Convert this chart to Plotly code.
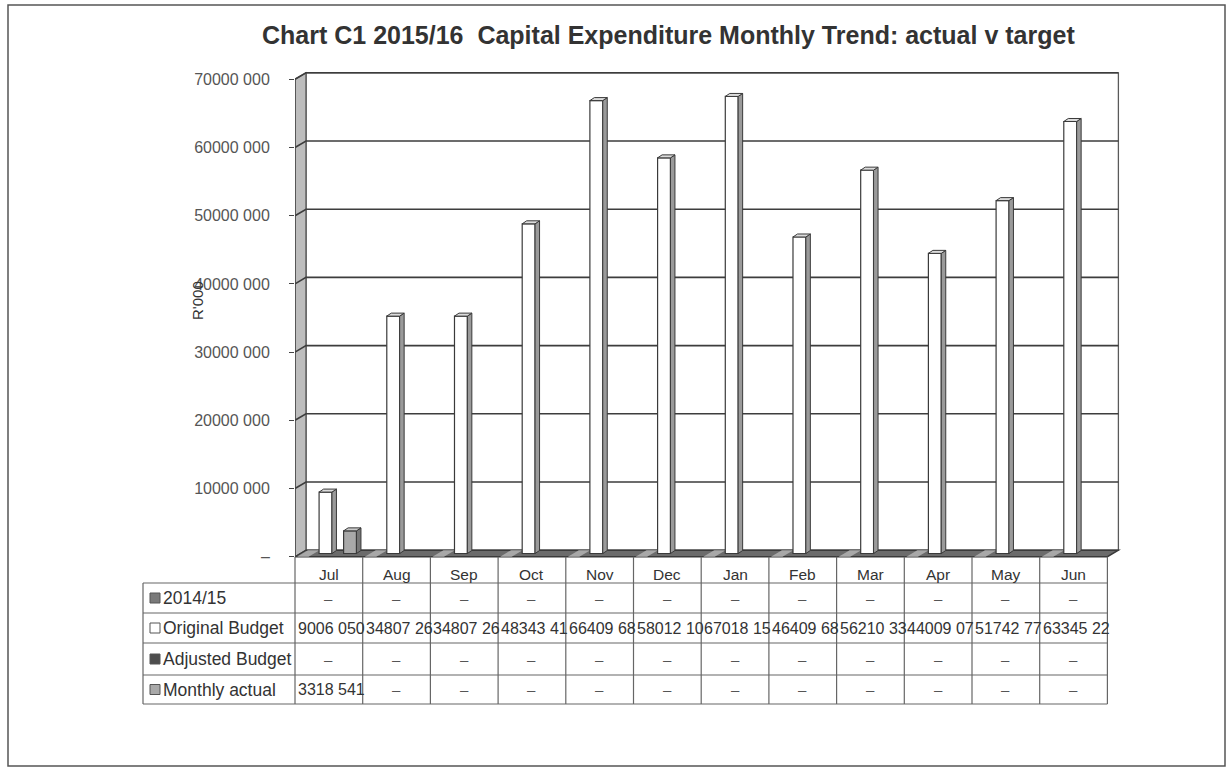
import plotly.graph_objects as go

# ---- data -------------------------------------------------------------
months = ["Jul", "Aug", "Sep", "Oct", "Nov", "Dec",
          "Jan", "Feb", "Mar", "Apr", "May", "Jun"]
series_names = ["2014/15", "Original Budget", "Adjusted Budget", "Monthly actual"]
prior_year = [0, 0, 0, 0, 0, 0, 0, 0, 0, 0, 0, 0]
original_budget = [9006050, 34807265, 34807265, 48343415, 66409685, 58012105,
                   67018155, 46409685, 56210335, 44009075, 51742775, 63345225]
adjusted_budget = [0, 0, 0, 0, 0, 0, 0, 0, 0, 0, 0, 0]
monthly_actual = [3318541, 0, 0, 0, 0, 0, 0, 0, 0, 0, 0, 0]
y_ticks = [0, 10000000, 20000000, 30000000, 40000000, 50000000, 60000000, 70000000]

series_values = [prior_year, original_budget, adjusted_budget, monthly_actual]
face_colors = ["#7a7a7a", "#ffffff", "#4d4d4d", "#a9a9a9"]
side_colors = ["#555555", "#9a9a9a", "#333333", "#777777"]
top_colors = ["#b5b5b5", "#dcdcdc", "#888888", "#cacaca"]

# ---- page geometry (pixels) --------------------------------------------
W, H = 1228, 770
CAT_PX = 67.7            # width of one month column
X_LEFT_PX = 295.0        # left edge of the first month column
Y_ZERO_PX = 556.7        # front floor edge
PX_PER_UNIT = 6.82e-6    # pixels per rand on the value axis

X_RANGE = [-0.5, 11.82]
Y_RANGE = [-400000, 72000000]


def px_x(x):
    return X_LEFT_PX + (x + 0.5) * CAT_PX


def px_y(v):
    return Y_ZERO_PX - v * PX_PER_UNIT


def fx(p):
    return p / W


def fy(p):
    return 1 - p / H


# 3-D depth of the walls and of each column
WALL_DX = 11 / CAT_PX
WALL_DY = 6.5 / PX_PER_UNIT
BAR_STEP = 0.181
BAR_W = 0.19
BAR_SHIFT = 2.8 / CAT_PX
BAR_LIFT = 3.2 / PX_PER_UNIT
BAR_DX = 4.5 / CAT_PX
BAR_DY = 3.0 / PX_PER_UNIT

FONT = "Liberation Sans, Arial, sans-serif"
TEXT = "#333333"


def fmt_value(v):
    if v == 0:
        return "–"
    return f"{v // 1000} {v % 1000:03d}"


def poly(points):
    return "M " + " L ".join(f"{x:.5f},{y:.1f}" for x, y in points) + " Z"


def label(x, y, text, size, color=TEXT, xref="paper", xanchor="center", **kw):
    return dict(x=x, y=y, xref=xref, yref="paper", text=text, showarrow=False,
                xanchor=xanchor, yanchor="middle",
                font=dict(family=FONT, size=size, color=color), **kw)


fig = go.Figure()
shapes = []
annotations = []

x_first, x_last = -0.5, 11.5

# back wall
shapes.append(dict(type="path", xref="x", yref="y", layer="below",
                   path=poly([(x_first + WALL_DX, WALL_DY), (x_last + WALL_DX, WALL_DY),
                              (x_last + WALL_DX, y_ticks[-1] + WALL_DY),
                              (x_first + WALL_DX, y_ticks[-1] + WALL_DY)]),
                   fillcolor="white", line=dict(color="#5a5a5a", width=1.3)))
# side wall
shapes.append(dict(type="path", xref="x", yref="y", layer="below",
                   path=poly([(x_first, 0), (x_first + WALL_DX, WALL_DY),
                              (x_first + WALL_DX, y_ticks[-1] + WALL_DY),
                              (x_first, y_ticks[-1])]),
                   fillcolor="#bdbdbd", line=dict(color="#555555", width=1.3)))
# gridlines running across side wall and back wall
for v in y_ticks[1:]:
    shapes.append(dict(type="path", xref="x", yref="y", layer="below",
                       path=f"M {x_first},{v} L {x_first + WALL_DX:.5f},{v + WALL_DY:.1f} "
                            f"L {x_last + WALL_DX:.5f},{v + WALL_DY:.1f}",
                       line=dict(color="#3d3d3d", width=1.6)))
# floor
shapes.append(dict(type="path", xref="x", yref="y", layer="below",
                   path=poly([(x_first, 0), (x_last, 0), (x_last + WALL_DX, WALL_DY),
                              (x_first + WALL_DX, WALL_DY)]),
                   fillcolor="#6b6b6b", line=dict(color="#3a3a3a", width=1.4)))
# lighter bands on the floor at each month boundary
for i in range(len(months)):
    b = i - 0.5 + 0.03
    shapes.append(dict(type="path", xref="x", yref="y", layer="below",
                       path=poly([(b, 0), (b + 0.17, 0), (b + 0.17 + WALL_DX, WALL_DY),
                                  (b + WALL_DX, WALL_DY)]),
                       fillcolor="#a8a8a8", line=dict(width=0)))
# front edge of the value axis
shapes.append(dict(type="line", xref="x", yref="y", layer="above",
                   x0=x_first, x1=x_first, y0=0, y1=y_ticks[-1],
                   line=dict(color="#444444", width=1.3)))

# ---- columns -------------------------------------------------------------
for k, (name, vals) in enumerate(zip(series_names, series_values)):
    idx = [i for i, v in enumerate(vals) if v > 0]
    if not idx:
        continue
    center = (k - 1.5) * BAR_STEP + BAR_SHIFT
    left = center - BAR_W / 2
    fig.add_trace(go.Bar(
        x=idx, y=[vals[i] for i in idx], base=BAR_LIFT, offset=left, width=BAR_W,
        name=name, marker=dict(color=face_colors[k], line=dict(color="#3a3a3a", width=1.2)),
        hoverinfo="skip", showlegend=False))
    sx, sy, tx, ty = [], [], [], []
    for i in idx:
        xl = i + left
        xr = xl + BAR_W
        top = BAR_LIFT + vals[i]
        sx += [xr, xr + BAR_DX, xr + BAR_DX, xr, xr, None]
        sy += [BAR_LIFT, BAR_LIFT + BAR_DY, top + BAR_DY, top, BAR_LIFT, None]
        tx += [xl, xl + BAR_DX, xr + BAR_DX, xr, xl, None]
        ty += [top, top + BAR_DY, top + BAR_DY, top, top, None]
    fig.add_trace(go.Scatter(x=sx, y=sy, mode="lines", fill="toself",
                             fillcolor=side_colors[k], line=dict(color="#3a3a3a", width=1),
                             hoverinfo="skip", showlegend=False))
    fig.add_trace(go.Scatter(x=tx, y=ty, mode="lines", fill="toself",
                             fillcolor=top_colors[k], line=dict(color="#3a3a3a", width=1),
                             hoverinfo="skip", showlegend=False))

# ---- data table ------------------------------------------------------------
TABLE_LEFT_PX = 143
HEADER_BOTTOM_PX = 583
ROW_PX = [583, 613, 643, 675, 704]
TABLE_RIGHT_PX = px_x(x_last)
CELL_CHARS = 8   # text wider than a cell is cut at the cell's right edge

for i in range(len(months) + 1):
    xp = fx(px_x(i - 0.5))
    shapes.append(dict(type="line", xref="paper", yref="paper", x0=xp, x1=xp,
                       y0=fy(Y_ZERO_PX), y1=fy(ROW_PX[-1]),
                       line=dict(color="#666666", width=1.2)))
for r in ROW_PX:
    shapes.append(dict(type="line", xref="paper", yref="paper",
                       x0=fx(TABLE_LEFT_PX), x1=fx(TABLE_RIGHT_PX), y0=fy(r), y1=fy(r),
                       line=dict(color="#666666", width=1.2)))
shapes.append(dict(type="line", xref="paper", yref="paper",
                   x0=fx(TABLE_LEFT_PX), x1=fx(TABLE_LEFT_PX),
                   y0=fy(ROW_PX[0]), y1=fy(ROW_PX[-1]),
                   line=dict(color="#666666", width=1.2)))

for i, m in enumerate(months):
    annotations.append(label(i, fy(574), m, 15.5, xref="x"))

for k, (name, vals) in enumerate(zip(series_names, series_values)):
    yc = (ROW_PX[k] + ROW_PX[k + 1]) / 2
    # legend key
    shapes.append(dict(type="rect", xref="paper", yref="paper",
                       x0=fx(150), x1=fx(160), y0=fy(yc + 5), y1=fy(yc - 5),
                       fillcolor=face_colors[k], line=dict(color="#555555", width=1)))
    annotations.append(label(fx(161), fy(yc), name, 17.5, xanchor="left"))
    for i, v in enumerate(vals):
        text = fmt_value(v)
        if v == 0:
            annotations.append(label(i, fy(yc), text, 15, color="#555555", xref="x"))
        else:
            annotations.append(label(i - 0.5, fy(yc), text[:CELL_CHARS], 16, xref="x",
                                     xanchor="left", xshift=1))

# ---- titles ----------------------------------------------------------------
title = label(fx(668), fy(35),
              "Chart C1 2015/16  Capital Expenditure Monthly Trend: actual v target",
              25, color="#333333")
title["font"]["weight"] = "bold"
annotations.append(title)
annotations.append(label(fx(197), fy(300), "R'000", 15, textangle=-90))

# outer frame of the chart
shapes.append(dict(type="rect", xref="paper", yref="paper",
                   x0=fx(8), x1=fx(1225), y0=fy(766), y1=fy(5),
                   line=dict(color="#555555", width=1.5)))

fig.update_layout(
    width=W, height=H,
    margin=dict(l=0, r=0, t=0, b=0, autoexpand=False),
    paper_bgcolor="white", plot_bgcolor="rgba(0,0,0,0)",
    barmode="overlay",
    showlegend=False,
    shapes=shapes,
    annotations=annotations,
    xaxis=dict(range=X_RANGE, domain=[fx(px_x(X_RANGE[0])), fx(px_x(X_RANGE[1]))],
               showgrid=False, zeroline=False, showticklabels=False, ticks="",
               showline=False, fixedrange=True, automargin=False),
    yaxis=dict(range=Y_RANGE, domain=[fy(px_y(Y_RANGE[0])), fy(px_y(Y_RANGE[1]))],
               tickvals=y_ticks, ticktext=[fmt_value(v) for v in y_ticks],
               ticks="outside", ticklen=5, tickwidth=1.2, tickcolor="#444444",
               ticklabelstandoff=16,
               tickfont=dict(family=FONT, size=16, color="#555555"),
               showgrid=False, zeroline=False, showline=False, fixedrange=True,
               automargin=False),
)

fig.write_html("out.html", config={"displayModeBar": False})
